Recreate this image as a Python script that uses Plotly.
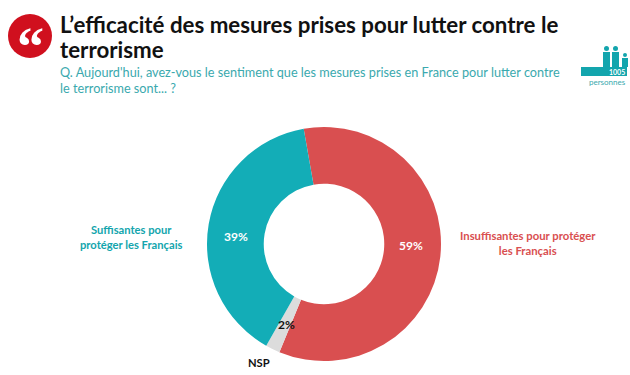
import plotly.graph_objects as go

categories = ["Insuffisantes pour protéger<br>les Français", "NSP", "Suffisantes pour<br>protéger les Français"]
values = [59, 2, 39]
value_labels = ["59%", "2%", "39%"]
colors = ["#D94F50", "#DCDCDC", "#13ADB7"]
label_colors = ["white", "#111111", "white"]

W, H = 630, 375
TEAL = "#13A5AD"
def X(p): return p / W
def Y(p): return 1 - p / H

fig = go.Figure(go.Pie(
    labels=categories, values=values, textinfo="none",
    hole=0.515, sort=False, direction="clockwise", rotation=350,
    marker=dict(colors=colors, line=dict(color="#FFFFFF", width=0)),
    domain=dict(x=[X(207), X(441)], y=[Y(361), Y(127)]),
    showlegend=False,
))

shapes = [
    dict(type="circle", xref="paper", yref="paper", x0=X(8), x1=X(52), y0=Y(58), y1=Y(14),
         fillcolor="#D0101E", line_width=0),
    dict(type="rect", xref="paper", yref="paper", x0=X(581), x1=X(627), y0=Y(76), y1=Y(67),
         fillcolor=TEAL, line_width=0),
]
# small people pictogram
for cx, top, r in [(606.5, 46, 3.5), (615.5, 46, 3.5), (625, 53, 3)]:
    shapes.append(dict(type="circle", xref="paper", yref="paper", x0=X(cx-r+1), x1=X(cx+r-1),
                       y0=Y(top+r*2-2), y1=Y(top), fillcolor=TEAL, line_width=0))
    shapes.append(dict(type="rect", xref="paper", yref="paper", x0=X(cx-r), x1=X(cx+r),
                       y0=Y(67), y1=Y(top+r*2-1), fillcolor=TEAL, line_width=0))

def note(x, y, text, size, color, anchor="left", bold=False, family="Lato"):
    return dict(xref="paper", yref="paper", x=X(x), y=Y(y), text=f"<b>{text}</b>" if bold else text,
                showarrow=False, xanchor=anchor, yanchor="middle", align=anchor,
                font=dict(family=family, size=size, color=color))

annotations = [
    note(58, 24, "L’efficacité des mesures prises pour lutter contre le", 22.3, "#111111", bold=True),
    note(58, 49, "terrorisme", 22.3, "#111111", bold=True),
    note(58, 72, "Q. Aujourd'hui, avez-vous le sentiment que les mesures prises en France pour lutter contre", 12.7, "#3AA9AE"),
    note(58, 88, "le terrorisme sont... ?", 12.7, "#3AA9AE"),
    note(30, 47, "“", 54, "white", "center", True, "Liberation Serif"),
    note(627, 72, "1005", 7, "white", "right", True),
    note(607, 82, "personnes", 8, "#3AA9AE", "center"),
    note(131, 237, "Suffisantes pour<br>protéger les Français", 11.2, "#13A5AD", "center", True),
    note(528, 243, "Insuffisantes pour protéger<br>les Français", 11.3, "#D94F50", "center", True),
    note(259, 362, "NSP", 11.2, "#111111", "center", True),
    note(236, 236, value_labels[2], 12, label_colors[2], "center", True),
    note(411, 245, value_labels[0], 12, label_colors[0], "center", True),
    note(286, 324, value_labels[1], 12, label_colors[1], "center", True),
]

fig.update_layout(
    width=W, height=H, margin=dict(l=0, r=0, t=0, b=0),
    paper_bgcolor="white", shapes=shapes, annotations=annotations,
)
fig.write_html("out.html", config={"displayModeBar": False}, post_script="document.body.style.margin='0';")
